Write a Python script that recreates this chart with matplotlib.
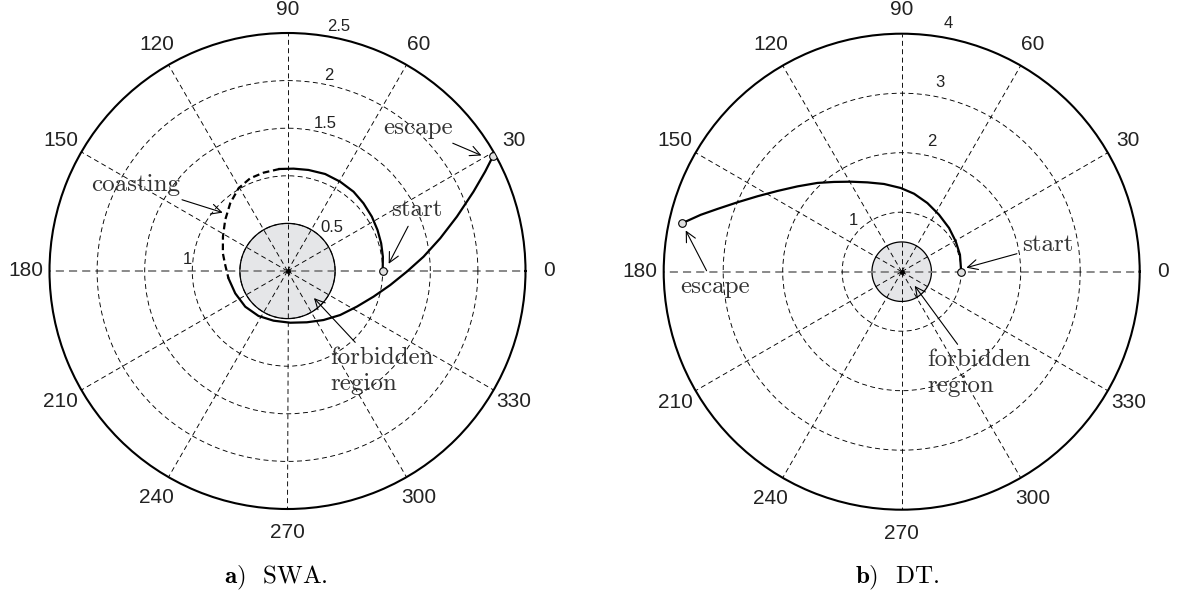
import numpy as np
import matplotlib.pyplot as plt

plt.rcParams['mathtext.fontset'] = 'cm'

W, H = 1184, 599

# SWA trajectory: first thrust arc, coasting arc, second thrust arc (deg, radius)
swa_th1 = [0, 8.5, 16.5, 24.5, 32.8, 41.7, 50.2, 59.5, 68.8, 78.3, 86.6, 94.5]
swa_r1 = [1.0, 1.013, 1.026, 1.039, 1.054, 1.069, 1.084, 1.089, 1.093, 1.084,
          1.077, 1.075]
swa_coast_th = [94.5, 103.7, 111.9, 120.6, 130.2, 140.7, 152.0, 164.7, 174.5, 187.0]
swa_coast_r = [1.075, 1.063, 1.05, 1.01, 0.932, 0.846, 0.768, 0.704, 0.657, 0.625]
swa_th2 = [187.0, 203.1, 220.2, 237.2, 254.3, 273.0, 290.7, 306.3, 320.1, 332.8,
           343.4, 352.2, 359.7, 366.0, 372.1, 377.8, 383.1, 386.7, 389.2]
swa_r2 = [0.625, 0.597, 0.581, 0.562, 0.542, 0.544, 0.576, 0.639, 0.721, 0.819,
          0.943, 1.089, 1.254, 1.437, 1.641, 1.869, 2.124, 2.324, 2.473]

# DT trajectory
dt_th = [0, 16.3, 29.3, 42.7, 56.8, 69.5, 81.0, 90.7, 101.4, 111.0, 119.5,
         127.0, 133.5, 140.7, 147.0, 152.4, 157.1, 161.2, 164.2, 167.5]
dt_r = [1.0, 1.02, 1.041, 1.083, 1.145, 1.232, 1.327, 1.407, 1.504, 1.608,
        1.738, 1.889, 2.057, 2.264, 2.491, 2.736, 2.997, 3.272, 3.511, 3.775]

forbidden_r = 0.5
angle_ticks = list(range(0, 360, 30))

swa_rmax = 2.5
swa_rings = [0.5, 1, 1.5, 2]
swa_ring_labels = ['0.5', '1', '1.5', '2', '2.5']
swa_ring_label_pos = [(44.7, 0.657), (173.7, 1.057), (75.8, 1.60), (78.0, 2.10), (78.1, 2.62)]

dt_rmax = 4
dt_rings = [1, 2, 3]
dt_ring_labels = ['1', '2', '3', '4']
dt_ring_label_pos = [(133.3, 1.19), (76.8, 2.24), (78.6, 3.25), (79.4, 4.24)]

rad = np.deg2rad
grid_ls = (0, (5.5, 3.8))
serif = 'cmr10'
sans = ['Liberation Sans', 'DejaVu Sans']


def setup_polar(rect, rmax, rings, ring_labels, ring_pos):
    ax = fig.add_axes(rect, projection='polar')
    ax.set_ylim(0, rmax)
    ax.set_rticks(rings)
    ax.set_yticklabels([])
    ax.set_thetagrids(angle_ticks, labels=[''] * len(angle_ticks))
    ax.grid(True, linestyle=grid_ls, color='k', linewidth=0.65)
    # the horizontal 0-180 axis comes out a bit heavier and greyer
    for i in (0, 6):
        ax.xaxis.get_gridlines()[i].set(color='#808080', linewidth=1.3,
                                        linestyle=(0, (4.5, 2.8)))
    ax.tick_params(length=0)
    ax.spines['polar'].set_linewidth(1.5)

    # forbidden region
    t = np.linspace(0, 2 * np.pi, 361)
    ax.fill(t, np.full_like(t, forbidden_r), facecolor='#e5e6e8',
            edgecolor='k', linewidth=0.9, zorder=1)
    ax.plot(0, 0, 'o', color='k', ms=2.5, zorder=3)

    for a in angle_ticks:
        ax.text(rad(a), 1.1 * rmax, str(a), ha='center', va='center',
                fontsize=15, family=sans, color='#222222')
    for lab, (a, r) in zip(ring_labels, ring_pos):
        ax.text(rad(a), r, lab, ha='center', va='center',
                fontsize=12, family=sans, color='#222222')
    return ax


def note(ax, text, tip, pos, ha='center'):
    ax.annotate(text, xy=(rad(tip[0]), tip[1]), xytext=(rad(pos[0]), pos[1]),
                ha=ha, va='center', fontsize=18, family=serif,
                color='#333333', multialignment='left',
                arrowprops=dict(arrowstyle='->', color='k', lw=0.8,
                                shrinkA=2, shrinkB=1))


fig = plt.figure(figsize=(W / 100, H / 100), dpi=100)

R = 238
sz = (2 * R / W, 2 * R / H)

# a) SWA
cx, cy = 287.5, 271
ax1 = setup_polar([(cx - R) / W, 1 - (cy + R) / H, sz[0], sz[1]],
                  swa_rmax, swa_rings, swa_ring_labels, swa_ring_label_pos)
ax1.plot(rad(swa_th1), swa_r1, color='k', lw=1.6, zorder=2)
ax1.plot(rad(swa_coast_th), swa_coast_r, color='k', lw=1.6,
         linestyle=(0, (3, 1.7)), zorder=2)
ax1.plot(rad(swa_th2), swa_r2, color='k', lw=1.6, zorder=2)
ax1.plot(rad([swa_th1[0], swa_th2[-1]]), [swa_r1[0], swa_r2[-1]], 'o',
         ms=5.5, mfc='#e0e0e0', mec='k', mew=0.8, zorder=4)
note(ax1, 'escape', (30.5, 2.38), (47.6, 2.03))
note(ax1, 'start', (3.4, 1.058), (25.3, 1.50))
note(ax1, 'coasting', (137.6, 0.903), (150.5, 1.833))
note(ax1, 'forbidden\nregion', (-45.6, 0.383), (-66.9, 1.142), ha='left')

# b) DT
cx, cy = 901.7, 271.7
ax2 = setup_polar([(cx - R) / W, 1 - (cy + R) / H, sz[0], sz[1]],
                  dt_rmax, dt_rings, dt_ring_labels, dt_ring_label_pos)
ax2.plot(rad(dt_th), dt_r, color='k', lw=1.6, zorder=2)
ax2.plot(rad([dt_th[0], dt_th[-1]]), [dt_r[0], dt_r[-1]], 'o',
         ms=5.5, mfc='#e0e0e0', mec='k', mew=0.8, zorder=4)
note(ax2, 'start', (3.3, 1.066), (10.3, 2.5))
note(ax2, 'escape', (168.9, 3.71), (184.7, 3.148))
note(ax2, 'forbidden\nregion', (-47, 0.30), (-76, 1.758), ha='left')

fig.text(276 / W, 1 - 578 / H, r'$\mathbf{a)}$  SWA.', ha='center', va='center',
         fontsize=18, family=serif)
fig.text(897 / W, 1 - 578 / H, r'$\mathbf{b)}$  DT.', ha='center', va='center',
         fontsize=18, family=serif)

fig.savefig('out.png', dpi=100)
